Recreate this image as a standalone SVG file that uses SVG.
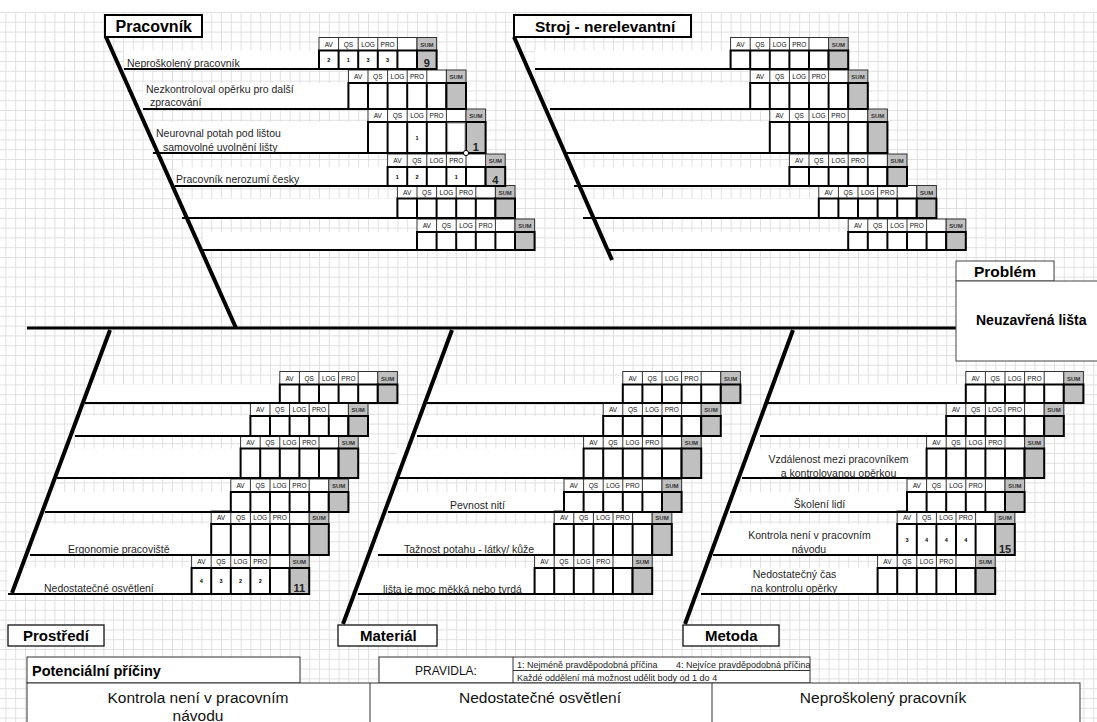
<svg xmlns="http://www.w3.org/2000/svg" xmlns:xlink="http://www.w3.org/1999/xlink" width="1097" height="722" viewBox="0 0 1097 722">
  <style>
    text { font-family: 'Liberation Sans', Arial, sans-serif; }
    .lbl { font-size: 10.5px; fill: #1f1f1f; }
    .lblc { font-size: 10.5px; fill: #1f1f1f; text-anchor: middle; }
    .ttl { font-size: 15.5px; font-weight: bold; fill: #000; }
    .hd { font-size: 6.5px; fill: #111; text-anchor: middle; }
    .hs { font-size: 6px; font-weight: bold; fill: #333; text-anchor: middle; }
    .dg { font-size: 5.5px; font-weight: bold; fill: #000; text-anchor: middle; }
    .sm { font-size: 11px; font-weight: bold; fill: #222; text-anchor: middle; }
    .band { fill: #fff; }
    .vc { fill: #fff; stroke: #000; stroke-width: 2; }
    .vs { fill: #c0c0c0; stroke: #000; stroke-width: 2; }
    .vd { stroke: #000; stroke-width: 2; fill: none; }
    .rib { stroke: #000; stroke-width: 2; fill: none; }
    .bone { stroke: #000; stroke-width: 4; fill: none; }
    .spine { stroke: #000; stroke-width: 3; fill: none; }
    .tbox { fill: #fff; stroke: #000; stroke-width: 2; }
    .bbox { fill: #fff; stroke: #111; stroke-width: 1.3; }
    .cell { fill: #fff; stroke: #333; stroke-width: 1; }
    .big { font-size: 15.5px; fill: #111; text-anchor: middle; }
    .rule { font-size: 9px; fill: #222; }
  </style>
  <defs>
    <pattern id="cells" patternUnits="userSpaceOnUse" x="5.4" y="2.2" width="9.8" height="9.8">
      <path d="M0 0.5H9.8M0.5 0V9.8" stroke="#e0e0e0" stroke-width="1" fill="none"/>
    </pattern>
    <!-- header row of a scoring table: AV QS LOG PRO (blank) SUM -->
    <g id="hdr">
      <rect x="0" y="0" width="98" height="13" fill="#fff" stroke="#333" stroke-width="1"/>
      <path d="M19.6 0v13M39.2 0v13M58.8 0v13M78.4 0v13" stroke="#333" stroke-width="1"/>
      <rect x="98" y="0" width="19.6" height="13" fill="#c0c0c0" stroke="#333" stroke-width="1"/>
      <text class="hd" x="9.8" y="9.3">AV</text>
      <text class="hd" x="29.4" y="9.3">QS</text>
      <text class="hd" x="49" y="9.3">LOG</text>
      <text class="hd" x="68.6" y="9.3">PRO</text>
      <text class="hs" x="107.8" y="9.2">SUM</text>
    </g>
    <clipPath id="ruleclip"><rect x="513" y="657" width="297" height="26"/></clipPath>
  </defs>

  <!-- sheet background -->
  <g id="sheet">
    <rect x="0" y="0" width="1097" height="722" fill="#fff"/>
    <rect x="0" y="12" width="1097" height="710" fill="url(#cells)"/>
  </g>

  <!-- Pracovník branch -->
  <g id="branch-pracovnik">
    <rect class="band" x="124" y="50.5" width="195" height="18.5"/>
    <rect class="band" x="143" y="83" width="205.4" height="26"/>
    <rect class="band" x="153" y="122" width="215" height="31"/>
    <rect class="band" x="175" y="167" width="212.6" height="19"/>
    <rect class="band" x="182" y="198.5" width="215.4" height="19.5"/>
    <rect class="band" x="203" y="232" width="214" height="18"/>

    <use href="#hdr" x="319" y="37.5"/>
    <use href="#hdr" x="348.4" y="70"/>
    <use href="#hdr" x="368" y="109"/>
    <use href="#hdr" x="387.6" y="154"/>
    <use href="#hdr" x="397.4" y="185.5"/>
    <use href="#hdr" x="417" y="219"/>

    <rect class="vc" x="319" y="50.5" width="98" height="18.5"/>
    <rect class="vs" x="417" y="50.5" width="19.6" height="18.5"/>
    <path class="vd" d="M338.6 50.5v18.5M358.2 50.5v18.5M377.8 50.5v18.5M397.4 50.5v18.5"/>

    <rect class="vc" x="348.4" y="83" width="98" height="26"/>
    <rect class="vs" x="446.4" y="83" width="19.6" height="26"/>
    <path class="vd" d="M368 83v26M387.6 83v26M407.2 83v26M426.8 83v26"/>

    <rect class="vc" x="368" y="122" width="98" height="31"/>
    <rect class="vs" x="466" y="122" width="19.6" height="31"/>
    <path class="vd" d="M387.6 122v31M407.2 122v31M426.8 122v31M446.4 122v31"/>
    <rect x="447.6" y="123" width="17.4" height="29" fill="#fff" stroke="#9a9a9a" stroke-width="1"/>

    <rect class="vc" x="387.6" y="167" width="98" height="19"/>
    <rect class="vs" x="485.6" y="167" width="19.6" height="19"/>
    <path class="vd" d="M407.2 167v19M426.8 167v19M446.4 167v19M466 167v19"/>

    <rect class="vc" x="397.4" y="198.5" width="98" height="19.5"/>
    <rect class="vs" x="495.4" y="198.5" width="19.6" height="19.5"/>
    <path class="vd" d="M417 198.5v19.5M436.6 198.5v19.5M456.2 198.5v19.5M475.8 198.5v19.5"/>

    <rect class="vc" x="417" y="232" width="98" height="18"/>
    <rect class="vs" x="515" y="232" width="19.6" height="18"/>
    <path class="vd" d="M436.6 232v18M456.2 232v18M475.8 232v18M495.4 232v18"/>

    <path class="rib" d="M124 69H436.6M143 109H466M153 153H485.6M175 186H505.2M182 218H515M203 250H534.6"/>
    <circle cx="466" cy="153" r="2.6" fill="#fff" stroke="#000" stroke-width="1"/>

    <text class="lbl" x="127" y="67">Neproškolený pracovník</text>
    <text class="lbl" x="146" y="92.7">Nezkontroloval opěrku pro další</text>
    <text class="lbl" x="150" y="105.7">zpracování</text>
    <text class="lbl" x="156" y="137.3">Neurovnal potah pod lištou</text>
    <text class="lbl" x="163" y="150.7">samovolné uvolnění lišty</text>
    <text class="lbl" x="176" y="183.3">Pracovník nerozumí česky</text>

    <text class="dg" x="328.8" y="61.7">2</text>
    <text class="dg" x="348.4" y="61.7">1</text>
    <text class="dg" x="368" y="61.7">3</text>
    <text class="dg" x="387.6" y="61.7">3</text>
    <text class="sm" x="426.8" y="67">9</text>
    <text class="dg" x="417" y="139.5">1</text>
    <text class="sm" x="475.8" y="151">1</text>
    <text class="dg" x="397.4" y="178.5">1</text>
    <text class="dg" x="417" y="178.5">2</text>
    <text class="dg" x="456.2" y="178.5">1</text>
    <text class="sm" x="495.4" y="184">4</text>
  </g>

  <!-- Stroj branch -->
  <g id="branch-stroj">
    <rect class="band" x="535" y="50.5" width="195.6" height="18.5"/>
    <rect class="band" x="550" y="83" width="200.2" height="26"/>
    <rect class="band" x="565" y="122" width="204.8" height="31"/>
    <rect class="band" x="574" y="167" width="215.4" height="19"/>
    <rect class="band" x="583" y="198.5" width="235.8" height="19.5"/>
    <rect class="band" x="607" y="232" width="241.2" height="18"/>

    <use href="#hdr" x="730.6" y="37.5"/>
    <use href="#hdr" x="750.2" y="70"/>
    <use href="#hdr" x="769.8" y="109"/>
    <use href="#hdr" x="789.4" y="154"/>
    <use href="#hdr" x="818.8" y="185.5"/>
    <use href="#hdr" x="848.2" y="219"/>

    <rect class="vc" x="730.6" y="50.5" width="98" height="18.5"/>
    <rect class="vs" x="828.6" y="50.5" width="19.6" height="18.5"/>
    <path class="vd" d="M750.2 50.5v18.5M769.8 50.5v18.5M789.4 50.5v18.5M809 50.5v18.5"/>

    <rect class="vc" x="750.2" y="83" width="98" height="26"/>
    <rect class="vs" x="848.2" y="83" width="19.6" height="26"/>
    <path class="vd" d="M769.8 83v26M789.4 83v26M809 83v26M828.6 83v26"/>

    <rect class="vc" x="769.8" y="122" width="98" height="31"/>
    <rect class="vs" x="867.8" y="122" width="19.6" height="31"/>
    <path class="vd" d="M789.4 122v31M809 122v31M828.6 122v31M848.2 122v31"/>

    <rect class="vc" x="789.4" y="167" width="98" height="19"/>
    <rect class="vs" x="887.4" y="167" width="19.6" height="19"/>
    <path class="vd" d="M809 167v19M828.6 167v19M848.2 167v19M867.8 167v19"/>

    <rect class="vc" x="818.8" y="198.5" width="98" height="19.5"/>
    <rect class="vs" x="916.8" y="198.5" width="19.6" height="19.5"/>
    <path class="vd" d="M838.4 198.5v19.5M858 198.5v19.5M877.6 198.5v19.5M897.2 198.5v19.5"/>

    <rect class="vc" x="848.2" y="232" width="98" height="18"/>
    <rect class="vs" x="946.2" y="232" width="19.6" height="18"/>
    <path class="vd" d="M867.8 232v18M887.4 232v18M907 232v18M926.6 232v18"/>

    <path class="rib" d="M535 69H848.2M550 109H867.8M565 153H887.4M574 186H907M583 218H936.4M607 250H965.8"/>
  </g>

  <!-- Prostředí branch -->
  <g id="branch-prostredi">
    <rect class="band" x="85" y="384.5" width="194.8" height="18.5"/>
    <rect class="band" x="75" y="416" width="175.4" height="20"/>
    <rect class="band" x="57" y="448.5" width="183.6" height="29.5"/>
    <rect class="band" x="45" y="492" width="185.8" height="20"/>
    <rect class="band" x="30" y="524" width="181.2" height="31"/>
    <rect class="band" x="8" y="568" width="183.6" height="26"/>

    <use href="#hdr" x="279.8" y="371.5"/>
    <use href="#hdr" x="250.4" y="403"/>
    <use href="#hdr" x="240.6" y="435.5"/>
    <use href="#hdr" x="230.8" y="479"/>
    <use href="#hdr" x="211.2" y="511"/>
    <use href="#hdr" x="191.6" y="555"/>

    <rect class="vc" x="279.8" y="384.5" width="98" height="18.5"/>
    <rect class="vs" x="377.8" y="384.5" width="19.6" height="18.5"/>
    <path class="vd" d="M299.4 384.5v18.5M319 384.5v18.5M338.6 384.5v18.5M358.2 384.5v18.5"/>

    <rect class="vc" x="250.4" y="416" width="98" height="20"/>
    <rect class="vs" x="348.4" y="416" width="19.6" height="20"/>
    <path class="vd" d="M270 416v20M289.6 416v20M309.2 416v20M328.8 416v20"/>

    <rect class="vc" x="240.6" y="448.5" width="98" height="29.5"/>
    <rect class="vs" x="338.6" y="448.5" width="19.6" height="29.5"/>
    <path class="vd" d="M260.2 448.5v29.5M279.8 448.5v29.5M299.4 448.5v29.5M319 448.5v29.5"/>

    <rect class="vc" x="230.8" y="492" width="98" height="20"/>
    <rect class="vs" x="328.8" y="492" width="19.6" height="20"/>
    <path class="vd" d="M250.4 492v20M270 492v20M289.6 492v20M309.2 492v20"/>

    <rect class="vc" x="211.2" y="524" width="98" height="31"/>
    <rect class="vs" x="309.2" y="524" width="19.6" height="31"/>
    <path class="vd" d="M230.8 524v31M250.4 524v31M270 524v31M289.6 524v31"/>

    <rect class="vc" x="191.6" y="568" width="98" height="26"/>
    <rect class="vs" x="289.6" y="568" width="19.6" height="26"/>
    <path class="vd" d="M211.2 568v26M230.8 568v26M250.4 568v26M270 568v26"/>

    <path class="rib" d="M85 403H397.4M75 436H368M57 478H358.2M45 512H348.4M30 555H328.8M8 594H309.2"/>

    <text class="lbl" x="68" y="552.7">Ergonomie pracoviště</text>
    <text class="lbl" x="44" y="591.7">Nedostatečné osvětlení</text>

    <text class="dg" x="201.4" y="583">4</text>
    <text class="dg" x="221" y="583">3</text>
    <text class="dg" x="240.6" y="583">2</text>
    <text class="dg" x="260.2" y="583">2</text>
    <text class="sm" x="299.4" y="592">11</text>
  </g>

  <!-- Materiál branch -->
  <g id="branch-material">
    <rect class="band" x="427" y="384.5" width="195.8" height="18.5"/>
    <rect class="band" x="417" y="416" width="186.2" height="20"/>
    <rect class="band" x="397" y="448.5" width="186.6" height="29.5"/>
    <rect class="band" x="388" y="492" width="176" height="20"/>
    <rect class="band" x="378" y="524" width="176.2" height="31"/>
    <rect class="band" x="358" y="568" width="176.6" height="26"/>

    <use href="#hdr" x="622.8" y="371.5"/>
    <use href="#hdr" x="603.2" y="403"/>
    <use href="#hdr" x="583.6" y="435.5"/>
    <use href="#hdr" x="564" y="479"/>
    <use href="#hdr" x="554.2" y="511"/>
    <use href="#hdr" x="534.6" y="555"/>

    <rect class="vc" x="622.8" y="384.5" width="98" height="18.5"/>
    <rect class="vs" x="720.8" y="384.5" width="19.6" height="18.5"/>
    <path class="vd" d="M642.4 384.5v18.5M662 384.5v18.5M681.6 384.5v18.5M701.2 384.5v18.5"/>

    <rect class="vc" x="603.2" y="416" width="98" height="20"/>
    <rect class="vs" x="701.2" y="416" width="19.6" height="20"/>
    <path class="vd" d="M622.8 416v20M642.4 416v20M662 416v20M681.6 416v20"/>

    <rect class="vc" x="583.6" y="448.5" width="98" height="29.5"/>
    <rect class="vs" x="681.6" y="448.5" width="19.6" height="29.5"/>
    <path class="vd" d="M603.2 448.5v29.5M622.8 448.5v29.5M642.4 448.5v29.5M662 448.5v29.5"/>

    <rect class="vc" x="564" y="492" width="98" height="20"/>
    <rect class="vs" x="662" y="492" width="19.6" height="20"/>
    <path class="vd" d="M583.6 492v20M603.2 492v20M622.8 492v20M642.4 492v20"/>

    <rect class="vc" x="554.2" y="524" width="98" height="31"/>
    <rect class="vs" x="652.2" y="524" width="19.6" height="31"/>
    <path class="vd" d="M573.8 524v31M593.4 524v31M613 524v31M632.6 524v31"/>

    <rect class="vc" x="534.6" y="568" width="98" height="26"/>
    <rect class="vs" x="632.6" y="568" width="19.6" height="26"/>
    <path class="vd" d="M554.2 568v26M573.8 568v26M593.4 568v26M613 568v26"/>

    <path class="rib" d="M427 403H740.4M417 436H720.8M397 478H701.2M388 512H681.6M378 555H671.8M358 594H652.2"/>

    <text class="lbl" x="450" y="509">Pevnost nití</text>
    <text class="lbl" x="404" y="553">Tažnost potahu - látky/ kůže</text>
    <text class="lbl" x="383" y="592.5">lišta je moc měkká nebo tvrdá</text>
  </g>

  <!-- Metoda branch -->
  <g id="branch-metoda">
    <rect class="band" x="768" y="384.5" width="197.8" height="18.5"/>
    <rect class="band" x="760" y="416" width="186.2" height="20"/>
    <rect class="band" x="742" y="448.5" width="184.6" height="29.5"/>
    <rect class="band" x="730" y="492" width="177" height="20"/>
    <rect class="band" x="713" y="524" width="184.2" height="31"/>
    <rect class="band" x="701" y="568" width="176.6" height="26"/>

    <use href="#hdr" x="965.8" y="371.5"/>
    <use href="#hdr" x="946.2" y="403"/>
    <use href="#hdr" x="926.6" y="435.5"/>
    <use href="#hdr" x="907" y="479"/>
    <use href="#hdr" x="897.2" y="511"/>
    <use href="#hdr" x="877.6" y="555"/>

    <rect class="vc" x="965.8" y="384.5" width="98" height="18.5"/>
    <rect class="vs" x="1063.8" y="384.5" width="19.6" height="18.5"/>
    <path class="vd" d="M985.4 384.5v18.5M1005 384.5v18.5M1024.6 384.5v18.5M1044.2 384.5v18.5"/>

    <rect class="vc" x="946.2" y="416" width="98" height="20"/>
    <rect class="vs" x="1044.2" y="416" width="19.6" height="20"/>
    <path class="vd" d="M965.8 416v20M985.4 416v20M1005 416v20M1024.6 416v20"/>

    <rect class="vc" x="926.6" y="448.5" width="98" height="29.5"/>
    <rect class="vs" x="1024.6" y="448.5" width="19.6" height="29.5"/>
    <path class="vd" d="M946.2 448.5v29.5M965.8 448.5v29.5M985.4 448.5v29.5M1005 448.5v29.5"/>

    <rect class="vc" x="907" y="492" width="98" height="20"/>
    <rect class="vs" x="1005" y="492" width="19.6" height="20"/>
    <path class="vd" d="M926.6 492v20M946.2 492v20M965.8 492v20M985.4 492v20"/>

    <rect class="vc" x="897.2" y="524" width="98" height="31"/>
    <rect class="vs" x="995.2" y="524" width="19.6" height="31"/>
    <path class="vd" d="M916.8 524v31M936.4 524v31M956 524v31M975.6 524v31"/>

    <rect class="vc" x="877.6" y="568" width="98" height="26"/>
    <rect class="vs" x="975.6" y="568" width="19.6" height="26"/>
    <path class="vd" d="M897.2 568v26M916.8 568v26M936.4 568v26M956 568v26"/>

    <path class="rib" d="M768 403H1083.4M760 436H1063.8M742 478H1044.2M730 512H1024.6M713 555H1014.8M701 594H995.2"/>

    <text class="lblc" x="838.5" y="462.7">Vzdálenost mezi pracovníkem</text>
    <text class="lblc" x="838.5" y="476.7">a kontrolovanou opěrkou</text>
    <text class="lblc" x="819.5" y="508.3">Školení lidí</text>
    <text class="lblc" x="809.5" y="539.3">Kontrola není v pracovním</text>
    <text class="lblc" x="809" y="552.7">návodu</text>
    <text class="lblc" x="794.5" y="578.3">Nedostatečný čas</text>
    <text class="lblc" x="794" y="592.3">na kontrolu opěrky</text>

    <text class="dg" x="907" y="541.5">3</text>
    <text class="dg" x="926.6" y="541.5">4</text>
    <text class="dg" x="946.2" y="541.5">4</text>
    <text class="dg" x="965.8" y="541.5">4</text>
    <text class="sm" x="1005" y="553">15</text>
  </g>

  <!-- spine and category bones -->
  <g id="connectors">
    <path class="spine" d="M27 328H956"/>
    <path class="bone" d="M106 37L236 328"/>
    <path class="bone" d="M514 37L612 260"/>
    <path class="bone" d="M110 330L12 593"/>
    <path class="bone" d="M452 330L343 624"/>
    <path class="bone" d="M793 330L685 624"/>
  </g>

  <!-- category headings -->
  <g id="title-pracovnik">
    <rect class="tbox" x="105" y="15" width="97" height="22"/>
    <text class="ttl" x="115.5" y="31.5" style="font-size:16px">Pracovník</text>
  </g>
  <g id="title-stroj">
    <rect class="tbox" x="514" y="15" width="177" height="22"/>
    <text class="ttl" x="535" y="31.5">Stroj - nerelevantní</text>
  </g>
  <g id="title-prostredi">
    <rect class="bbox" x="8" y="625" width="96" height="21"/>
    <text class="ttl" x="23" y="641" style="font-size:15px">Prostředí</text>
  </g>
  <g id="title-material">
    <rect class="bbox" x="338" y="625" width="99" height="21"/>
    <text class="ttl" x="360" y="641" style="font-size:15px">Materiál</text>
  </g>
  <g id="title-metoda">
    <rect class="bbox" x="683" y="625" width="96" height="21"/>
    <text class="ttl" x="705" y="641" style="font-size:15px">Metoda</text>
  </g>

  <!-- effect box -->
  <g id="problem">
    <rect x="956" y="261" width="98" height="20" fill="#fff" stroke="#444" stroke-width="1"/>
    <text class="ttl" x="974" y="277">Problém</text>
    <rect x="956" y="281" width="150" height="80" fill="#fff" stroke="#444" stroke-width="1"/>
    <text class="ttl" x="976" y="325" style="font-size:14px">Neuzavřená lišta</text>
  </g>

  <!-- summary area -->
  <g id="summary">
    <rect class="cell" x="27" y="657" width="273" height="26"/>
    <text x="32" y="676" style="font-size:14.5px;font-weight:bold;fill:#000">Potenciální příčiny</text>

    <rect class="cell" x="379" y="657" width="431" height="26"/>
    <path d="M513 657V683M513 670.5H810" stroke="#333" stroke-width="1"/>
    <text x="446" y="675" style="font-size:12px;fill:#111;text-anchor:middle">PRAVIDLA:</text>
    <g clip-path="url(#ruleclip)">
      <text class="rule" x="517" y="667.5">1: Nejméně pravděpodobná příčina</text>
      <text class="rule" x="676" y="667.5">4: Nejvíce pravděpodobná příčina</text>
      <text class="rule" x="517" y="680.5">Každé oddělení má možnost udělit body od 1 do 4</text>
    </g>

    <rect class="cell" x="27" y="683" width="1053" height="50"/>
    <path d="M370 683V722M712 683V722" stroke="#333" stroke-width="1"/>
    <text class="big" x="198" y="703">Kontrola není v pracovním</text>
    <text class="big" x="198" y="721">návodu</text>
    <text class="big" x="540" y="703">Nedostatečné osvětlení</text>
    <text class="big" x="883" y="703">Neproškolený pracovník</text>
  </g>
</svg>
